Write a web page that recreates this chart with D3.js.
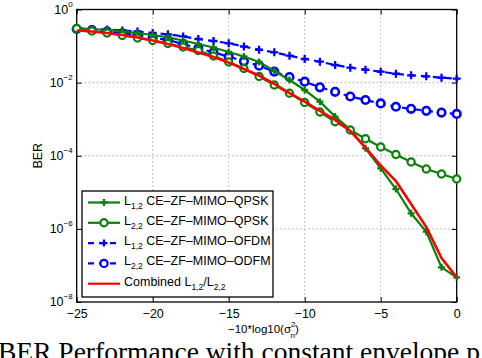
<!DOCTYPE html>
<html><head><meta charset="utf-8">
<script src="https://cdn.jsdelivr.net/npm/d3@7"></script>
<style>body{margin:0;background:#fff}svg{display:block}</style>
</head><body>
<script>
// ---- data ----
const snr = [-25,-24,-23,-22,-21,-20,-19,-18,-17,-16,-15,-14,-13,-12,-11,-10,-9,-8,-7,-6,-5,-4,-3,-2,-1,0];
const l12_qpsk = [0.306,0.293,0.275,0.253,0.228,0.201,0.172,0.142,0.114,0.0914,0.0688,0.0518,0.0366,0.0208,0.0118,0.00628,0.00301,0.00118,5.22e-4,1.60e-4,4.53e-5,1.23e-5,2.67e-6,8.36e-7,8.89e-8,4.73e-8];
const l22_qpsk = [0.302,0.258,0.228,0.195,0.166,0.142,0.1175,0.0942,0.0757,0.0535,0.0366,0.0243,0.0147,0.00861,0.00511,0.00286,0.00157,8.53e-4,5.06e-4,2.92e-4,1.73e-4,1.08e-4,6.75e-5,4.34e-5,3.17e-5,2.31e-5];
const l12_ofdm = [0.306,0.293,0.284,0.267,0.250,0.228,0.210,0.183,0.156,0.1375,0.119,0.0973,0.0794,0.0675,0.0545,0.0443,0.0373,0.0303,0.0256,0.0225,0.0199,0.0175,0.0158,0.0149,0.0136,0.0128];
const l22_ofdm = [0.293,0.275,0.247,0.223,0.201,0.169,0.1466,0.1138,0.0869,0.0675,0.0512,0.0383,0.0290,0.0199,0.01426,0.0106,0.00745,0.00561,0.00417,0.00335,0.00269,0.00219,0.00192,0.00169,0.00152,0.00139];
const combined = [0.267,0.250,0.228,0.201,0.171,0.142,0.1138,0.0885,0.0667,0.0502,0.0355,0.0236,0.01567,0.0092,0.0052,0.0030,0.00168,9.6e-4,4.75e-4,1.68e-4,5.41e-5,2.04e-5,4.79e-6,1.12e-6,1.60e-7,4.73e-8];
const xTicks = [-25,-20,-15,-10,-5,0];
const yTickExp = [0,-2,-4,-6,-8];

const W=482,H=358;
const L=76.7,R=456.7,T=9.5,B=302;
const svg=d3.select("body").append("svg").attr("width",W).attr("height",H);
const x=d3.scaleLinear().domain([-25,0]).range([L,R]);
const y=d3.scaleLog().domain([1e-8,1]).range([B,T]);
const font="'Liberation Sans', Arial, Helvetica, sans-serif";

// grid
const g=svg.append("g");
g.selectAll(".gx").data(xTicks.slice(1,-1)).join("line")
 .attr("x1",d=>x(d)).attr("x2",d=>x(d)).attr("y1",T).attr("y2",B)
 .attr("stroke","#888").attr("stroke-width",1).attr("stroke-dasharray","1,3");
g.selectAll(".gy").data(yTickExp.slice(1,-1)).join("line")
 .attr("x1",L).attr("x2",R).attr("y1",d=>y(Math.pow(10,d))).attr("y2",d=>y(Math.pow(10,d)))
 .attr("stroke","#888").attr("stroke-width",1).attr("stroke-dasharray","1,3");

// axes via d3
const xAxis=d3.axisBottom(x).tickValues(xTicks).tickSizeInner(-5).tickSizeOuter(0).tickFormat(d=>d===0?"0":"\u2212"+Math.abs(d));
const gx=svg.append("g").attr("transform",`translate(0,${B})`).call(xAxis);
gx.select(".domain").remove();
gx.selectAll("line").attr("stroke","#000");
gx.selectAll("text").attr("font-family",font).attr("font-size",12.5).attr("fill","#000").attr("dy",null).attr("y",16);
const gxTop=svg.append("g").attr("transform",`translate(0,${T})`).call(d3.axisTop(x).tickValues(xTicks).tickSizeInner(-5).tickSizeOuter(0).tickFormat(""));
gxTop.select(".domain").remove(); gxTop.selectAll("line").attr("stroke","#000");

const yAxis=d3.axisLeft(y).tickValues(yTickExp.map(e=>Math.pow(10,e))).tickSizeInner(-5).tickSizeOuter(0).tickFormat("");
const gy=svg.append("g").attr("transform",`translate(${L},0)`).call(yAxis);
gy.select(".domain").remove(); gy.selectAll("line").attr("stroke","#000");
const gyR=svg.append("g").attr("transform",`translate(${R},0)`).call(d3.axisRight(y).tickValues(yTickExp.map(e=>Math.pow(10,e))).tickSizeInner(-5).tickSizeOuter(0).tickFormat(""));
gyR.select(".domain").remove(); gyR.selectAll("line").attr("stroke","#000");
// y tick labels 10^e
yTickExp.forEach(e=>{
  const t=svg.append("text").attr("font-family",font).attr("font-size",12.5).attr("text-anchor","end")
   .attr("x",L-4).attr("y",y(Math.pow(10,e))+4);
  t.append("tspan").text("10");
  t.append("tspan").attr("font-size",8).attr("dy",-7).text(e===0?"0":"\u2212"+Math.abs(e));
});

// frame
svg.append("rect").attr("x",L).attr("y",T).attr("width",R-L).attr("height",B-T).attr("fill","none").attr("stroke","#000").attr("stroke-width",1.3);

// axis labels
svg.append("text").attr("font-family",font).attr("font-size",12.5).attr("text-anchor","middle")
 .attr("transform",`translate(42,${(T+B)/2}) rotate(-90)`).text("BER");
const xl=svg.append("text").attr("font-family",font).attr("font-size",11.5).attr("x",228).attr("y",333);
xl.append("tspan").text("\u221210*log10(\u03c3");
xl.append("tspan").attr("font-size",8).attr("dy",-6).text("2");
xl.append("tspan").attr("font-size",8).attr("dx",-5).attr("dy",11).text("n");
xl.append("tspan").attr("dy",-5).text(")");

// series
const series=[
 {vals:l12_qpsk,color:"#0a800a",dash:null,marker:"plus"},
 {vals:l22_qpsk,color:"#0a800a",dash:null,marker:"circle"},
 {vals:l12_ofdm,color:"#0000ff",dash:"7,5",marker:"plus"},
 {vals:l22_ofdm,color:"#0000ff",dash:"7,5",marker:"circle"},
 {vals:combined,color:"#ff0000",dash:null,marker:null}
];
const line=d3.line().x(d=>x(d[0])).y(d=>y(d[1]));
const plot=svg.append("g");
function drawMarker(sel,type,color,cx,cy,big){
  if(type==="plus"){
    const s=big?4:3.5;
    sel.append("path").attr("d",`M${cx-s},${cy}H${cx+s}M${cx},${cy-s}V${cy+s}`).attr("stroke",color).attr("stroke-width",2.3).attr("fill","none");
  } else if(type==="circle"){
    sel.append("circle").attr("cx",cx).attr("cy",cy).attr("r",big?3.8:3.6).attr("stroke",color).attr("stroke-width",big?2.6:2.2).attr("fill","#fff");
  }
}
// draw order: blue first, then green, then red
[2,3,0,1,4].forEach(i=>{
  const s=series[i];
  const data=snr.map((v,k)=>[v,s.vals[k]]);
  const gg=plot.append("g");
  gg.append("path").datum(data).attr("d",line).attr("fill","none").attr("stroke",s.color)
    .attr("stroke-width",i===4?2.6:2.2).attr("stroke-dasharray",s.dash);
  if(s.marker) data.forEach(d=>drawMarker(gg,s.marker,s.color,x(d[0]),y(d[1]),s.color==="#0000ff"));
});

// legend
const lg=svg.append("g");
lg.append("rect").attr("x",82).attr("y",191).attr("width",191).attr("height",106).attr("fill","#fff").attr("stroke","#000").attr("stroke-width",1.3);
const legendLabels=[
 ["L","1,2"," CE\u2013ZF\u2013MIMO\u2013QPSK"],
 ["L","2,2"," CE\u2013ZF\u2013MIMO\u2013QPSK"],
 ["L","1,2"," CE\u2013ZF\u2013MIMO\u2013OFDM"],
 ["L","2,2"," CE\u2013ZF\u2013MIMO\u2013ODFM"],
 null
];
series.forEach((s,i)=>{
  const yy=202.5+i*20.3;
  lg.append("line").attr("x1",88).attr("x2",120).attr("y1",yy).attr("y2",yy).attr("stroke",s.color)
    .attr("stroke-width",2.2).attr("stroke-dasharray",s.dash?"6,5":null);
  if(s.marker) drawMarker(lg,s.marker,s.color,104,yy,false);
  const t=lg.append("text").attr("font-family",font).attr("font-size",12.5).attr("x",124).attr("y",yy+2);
  if(legendLabels[i]){
    const [a,sub,rest]=legendLabels[i];
    t.append("tspan").text(a);
    t.append("tspan").attr("font-size",8.5).attr("dy",4).text(sub);
    t.append("tspan").attr("dy",-4).text(rest);
  } else {
    t.append("tspan").text("Combined L");
    t.append("tspan").attr("font-size",8.5).attr("dy",4).text("1,2");
    t.append("tspan").attr("dy",-4).text("/L");
    t.append("tspan").attr("font-size",8.5).attr("dy",4).text("2,2");
  }
});

// caption
svg.append("text").attr("font-family","'Liberation Serif','Times New Roman',serif").attr("font-size",27.5)
 .attr("x",-2).attr("y",361).text("BER Performance with constant envelope p");
</script>
</body></html>
